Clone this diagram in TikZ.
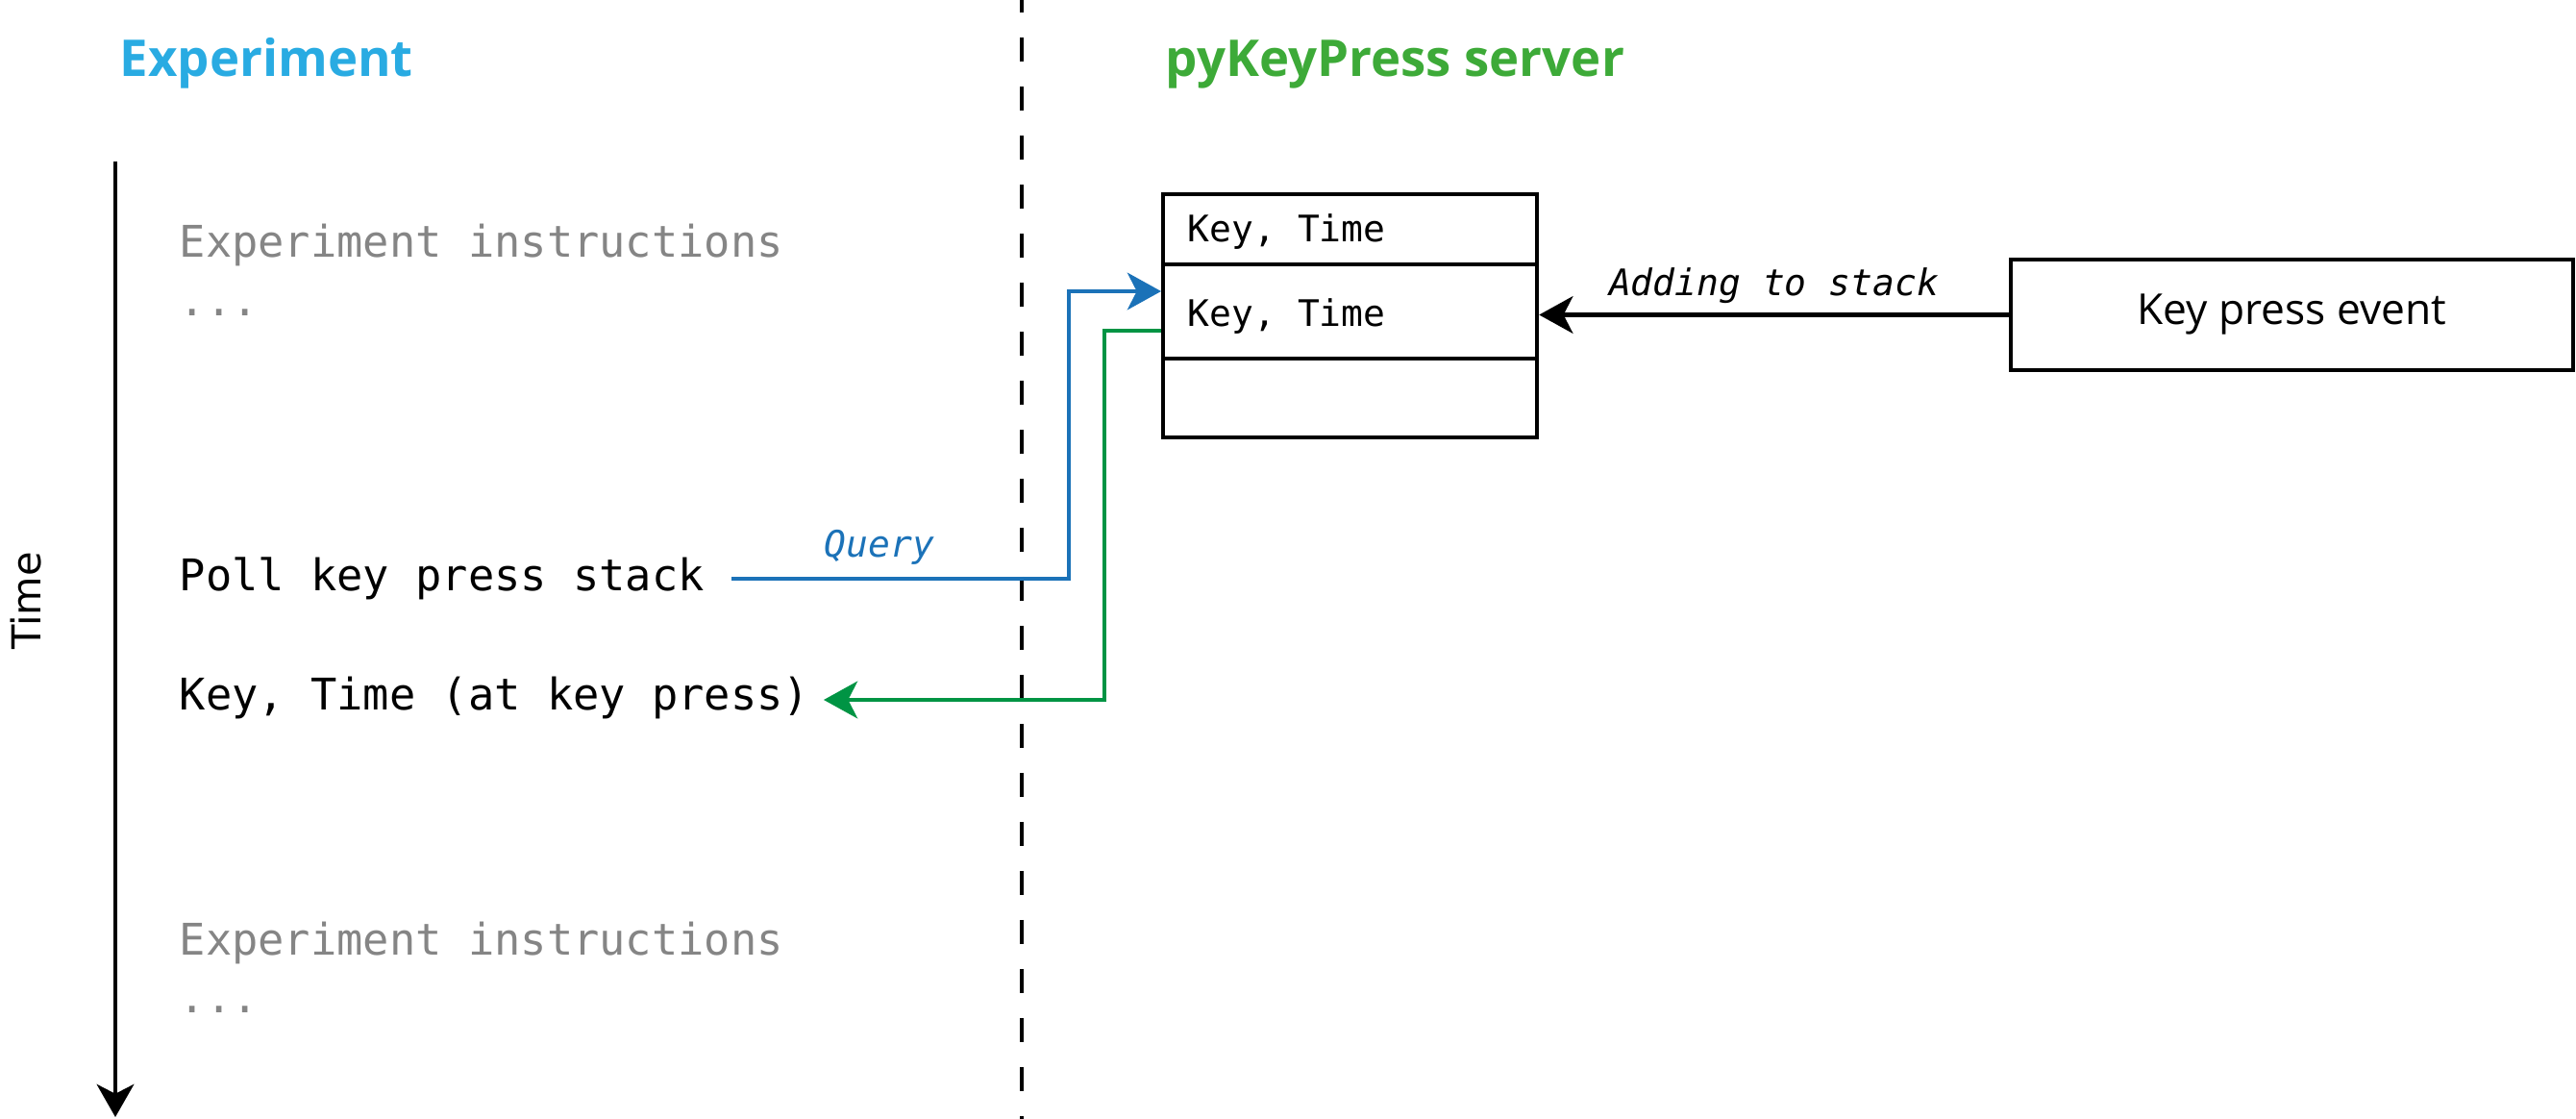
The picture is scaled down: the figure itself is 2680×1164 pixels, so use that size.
\documentclass[tikz,border=0pt]{standalone}
\usepackage{fontspec}
\setmainfont{Open Sans}
\newfontfamily\monofam{DejaVu Sans Mono}
\newfontfamily\dvsans{DejaVu Sans}
\usetikzlibrary{arrows.meta}
\definecolor{expblue}{HTML}{29ABE2}
\definecolor{srvgreen}{HTML}{3DAA38}
\definecolor{qblue}{HTML}{1B72B8}
\definecolor{rgreen}{HTML}{009444}
\definecolor{txtgray}{HTML}{858585}
\begin{document}
\begin{tikzpicture}[x=0.01cm,y=-0.01cm,
  lbl/.style={inner sep=0pt, anchor=base west},
  bigmono/.style={lbl, font=\monofam\fontsize{12.9pt}{15pt}\selectfont},
  graymono/.style={bigmono, text=txtgray},
  smallmono/.style={inner sep=0pt, font=\monofam\fontsize{10.8pt}{13pt}\selectfont},
  title/.style={lbl, font=\bfseries\fontsize{15pt}{18pt}\selectfont},
  cell/.style={draw, line width=1.15pt, minimum width=3.89cm, inner sep=0pt, anchor=north west},
  conn/.style={line width=1.15pt, -{Stealth[length=10pt,width=11pt,inset=2.8pt]}},
]
\useasboundingbox (0,0) rectangle (2680,1164);

% titles
\node[title, text=expblue] (ttl1) at (124,80) {Experiment};
\node[title, text=srvgreen] (ttl2) at (1212,80) {pyKeyPress server};

% separator
\coordinate (dtop) at (1063,0);
\coordinate (dbot) at (1063,1164);
\draw[line width=1.05pt, dash pattern=on 7.1pt off 7.4pt, dash phase=3.4pt] (dtop) -- (dbot);

% time axis
\coordinate (tstart) at (120,168);
\coordinate (tend) at (120,1162);
\draw[line width=1.1pt, -{Stealth[length=9.7pt,width=11pt,inset=2.8pt]}] (tstart) -- (tend);
\node[inner sep=0pt, rotate=90, font=\dvsans\fontsize{11.8pt}{14pt}\selectfont] (tlbl) at (27,625) {Time};

% experiment texts
\node[graymono] (ins1) at (186,268) {Experiment instructions};
\node[graymono] (dots1) at (186,329) {...};
\node[bigmono] (poll) at (186,615) {Poll key press stack};
\node[bigmono] (resp) at (186,739) {Key, Time (at key press)};
\node[graymono] (ins2) at (186,994) {Experiment instructions};
\node[graymono] (dots2) at (186,1054) {...};

% stack
\node[cell, minimum height=0.73cm] (row1) at (1208,200) {};
\node[cell, minimum height=0.98cm] (row2) at (1208,273) {};
\node[cell, minimum height=0.82cm] (row3) at (1208,371) {};
\node[smallmono, anchor=base west] (k1) at (1235,252) {Key, Time};
\node[smallmono, anchor=base west] (k2) at (1235,340) {Key, Time};

% key press event
\node[draw, line width=1.15pt, minimum width=5.85cm, minimum height=1.15cm, inner sep=0pt,
  font=\fontsize{12.6pt}{15pt}\selectfont] (kpe) at (2384.5,327.5) {Key press event};

\draw[conn] (kpe.west) -- (kpe.west -| row2.east)
  node[smallmono, midway, anchor=base, yshift=0.2cm, font=\monofam\itshape\fontsize{10.8pt}{13pt}\selectfont] (addlbl) {Adding to stack};

% query
\coordinate (qs) at (761,602);
\coordinate (qc) at (1112,602);
\coordinate (qe) at (1208,303);
\draw[conn, qblue] (qs) -- (qc) |- (qe);
\node[smallmono, anchor=base, text=qblue, font=\monofam\itshape\fontsize{10.8pt}{13pt}\selectfont] (qlbl) at (915,580) {Query};

% response
\coordinate (rs) at (1208,344);
\coordinate (rc) at (1149,344);
\coordinate (re) at (857,728);
\draw[conn, rgreen] (rs) -- (rc) |- (re);
\end{tikzpicture}
\end{document}
